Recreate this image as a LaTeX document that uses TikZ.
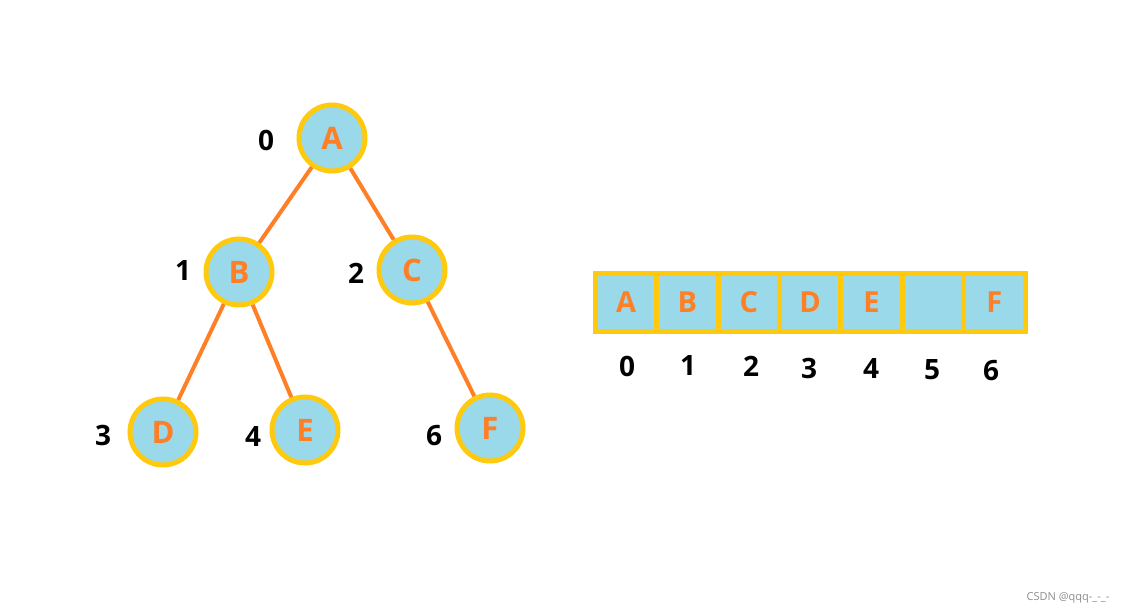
\documentclass[tikz,border=0pt]{standalone}
\usepackage{fontspec}
\setmainfont{Open Sans}
\usetikzlibrary{positioning}
\definecolor{cellblue}{HTML}{99D9EA}
\definecolor{ringgold}{HTML}{FFC90E}
\definecolor{linkorange}{HTML}{FF7F27}
\begin{document}
\begin{tikzpicture}[x=1pt,y=-1pt,node distance=61.4pt,
    vertex/.style={circle,draw=ringgold,fill=cellblue,line width=5pt,minimum size=66pt,inner sep=0pt,
                   text=linkorange,font=\fontsize{31}{31}\bfseries\selectfont},
    cell/.style={rectangle,draw=ringgold,fill=cellblue,line width=5pt,minimum width=61.4pt,minimum height=58pt,
                 inner sep=0pt,text=linkorange,font=\fontsize{29}{29}\bfseries\selectfont},
    idx/.style={font=\fontsize{28}{28}\bfseries\selectfont},
    link/.style={draw=linkorange,line width=4pt}]

        \useasboundingbox (0,0) rectangle (1133,615);

        % tree
        \node[vertex] (A) at (332,138) {A};
        \node[vertex] (B) at (239,272) {B};
        \node[vertex] (C) at (412,270) {C};
        \node[vertex] (D) at (163,432) {D};
        \node[vertex] (E) at (305,430) {E};
        \node[vertex] (F) at (490,428) {F};

        \path[link] (A) edge (B)
                    (A) edge (C)
                    (B) edge (D)
                    (B) edge (E)
                    (C) edge (F);

        \node[idx] (iA) at (266,140) {0};
        \node[idx] (iB) at (183,271) {1};
        \node[idx] (iC) at (356,273) {2};
        \node[idx] (iD) at (103,435) {3};
        \node[idx] (iE) at (253,437) {4};
        \node[idx] (iF) at (434,436) {6};

        % array
        \node[cell] (c0) at (626,302.5) {A};
        \node[cell] (c1) [right of=c0] {B};
        \node[cell] (c2) [right of=c1] {C};
        \node[cell] (c3) [right of=c2] {D};
        \node[cell] (c4) [right of=c3] {E};
        \node[cell] (c5) [right of=c4] {};
        \node[cell] (c6) [right of=c5] {F};

        \node[idx] (n0) at (627,366) {0};
        \node[idx] (n1) at (688,366) {1};
        \node[idx] (n2) at (751,366) {2};
        \node[idx] (n3) at (809,368) {3};
        \node[idx] (n4) at (871,369) {4};
        \node[idx] (n5) at (932,370) {5};
        \node[idx] (n6) at (991,371) {6};

        \node[text=black!45,font=\fontsize{11}{11}\selectfont] (mark) at (1068,598) {CSDN @qqq-\_-\_-};
\end{tikzpicture}
\end{document}
